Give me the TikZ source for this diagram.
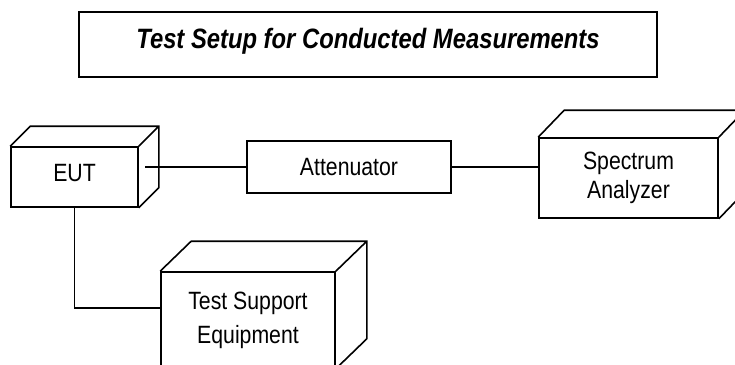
\documentclass[tikz,border=0pt]{standalone}
\usepackage{fontspec}
\setmainfont{Liberation Sans}[FakeStretch=0.85]
\usepackage{tikz}

% front face of a unit, and the box drawn behind it
\tikzset{
  face/.style={draw, line width=1.6pt, fill=white, inner sep=0pt, align=center,
    font=\fontsize{25}{29}\selectfont},
  wire/.style={line width=1.1pt},
}
\newcommand{\unitdepth}[2]{%
  \draw[line width=1.6pt] (#1.north west) -- ++(#2) -- ([shift={(#2)}]#1.north east)
    -- ([shift={(#2)}]#1.south east) -- (#1.south east)
    (#1.north east) -- ++(#2);}

\begin{document}
\begin{tikzpicture}[x=1pt, y=-1pt]
    \useasboundingbox (0,0) rectangle (735,364);

    % Title
    \node[draw, line width=1.6pt, minimum width=578pt, minimum height=65pt, inner sep=0pt,
      text depth=13pt, font=\fontsize{28}{32}\selectfont\bfseries\itshape] (title) at (368,44.5)
      {Test Setup for Conducted Measurements};

    % Units
    \node[face, minimum width=127pt, minimum height=60pt, text depth=8pt] (eut) at (74.5,177) {EUT};
    \unitdepth{eut}{20,-20}

    \node[face, minimum width=204pt, minimum height=52pt] (att) at (349,167) {Attenuator};

    \node[face, minimum width=179pt, minimum height=80pt] (sa) at (628.5,178)
      {Spectrum\\Analyzer};
    \unitdepth{sa}{26,-27}

    \node[face, minimum width=174pt, minimum height=96pt,
      font=\fontsize{25}{34}\selectfont] (tse) at (248,320)
      {Test Support\\Equipment};
    \unitdepth{tse}{31,-30}

    % Cables
    \draw[wire] (att.west) -- ([xshift=6pt]att.west -| eut.east);
    \draw[wire] (att.east) -- (att.east -| sa.west);
    \draw[wire] (eut.south) |- ([yshift=12pt]tse.west);
\end{tikzpicture}
\end{document}
